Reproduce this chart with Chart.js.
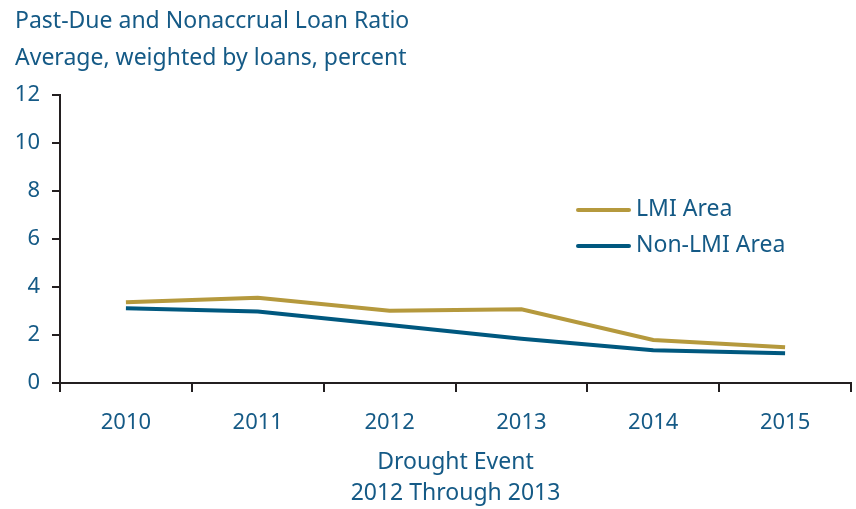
<!DOCTYPE html>
<html>
<head>
<meta charset="utf-8">
<script src="https://cdn.jsdelivr.net/npm/chart.js@4/dist/chart.umd.min.js"></script>
<style>
html,body{margin:0;padding:0;background:#fff;}
#wrap{width:856px;height:509px;position:relative;}
</style>
</head>
<body>
<div id="wrap"><canvas id="c" width="856" height="509"></canvas></div>
<script>
const categories = ['2010', '2011', '2012', '2013', '2014', '2015'];
const lmiArea = [3.36, 3.55, 3.01, 3.07, 1.79, 1.49];
const nonLmiArea = [3.11, 2.98, 2.42, 1.84, 1.36, 1.24];
const yTicks = [0, 2, 4, 6, 8, 10, 12];
const titleLines = ['Past-Due and Nonaccrual Loan Ratio', 'Average, weighted by loans, percent'];
const xTitleLines = ['Drought Event', '2012 Through 2013'];
const seriesNames = ['LMI Area', 'Non-LMI Area'];

const TEXT = '#155a86';
const GOLD = '#b5993d';
const BLUE = '#00587f';
const AXIS = '#231f20';
const FONT = "'Noto Sans', sans-serif";

const overlay = {
  id: 'overlay',
  afterDraw(chart) {
    const ctx = chart.ctx;
    ctx.save();
    ctx.fillStyle = TEXT;
    ctx.font = '23px ' + FONT;
    ctx.textAlign = 'left';
    ctx.textBaseline = 'alphabetic';
    ctx.fillText(titleLines[0], 15, 28);
    ctx.fillText(titleLines[1], 15, 65);
    // legend
    const items = [[seriesNames[0], GOLD, 210], [seriesNames[1], BLUE, 246]];
    items.forEach(([t, c, y]) => {
      ctx.strokeStyle = c;
      ctx.lineWidth = 4;
      ctx.lineCap = 'round';
      ctx.beginPath();
      ctx.moveTo(578, y);
      ctx.lineTo(629, y);
      ctx.stroke();
      ctx.fillStyle = TEXT;
      ctx.textBaseline = 'middle';
      ctx.fillText(t, 636, y - 1);
    });
    ctx.restore();
  }
};

new Chart(document.getElementById('c'), {
  type: 'line',
  data: {
    labels: categories,
    datasets: [
      { label: seriesNames[0], data: lmiArea, borderColor: GOLD, backgroundColor: GOLD, borderWidth: 4, pointRadius: 0, tension: 0 },
      { label: seriesNames[1], data: nonLmiArea, borderColor: BLUE, backgroundColor: BLUE, borderWidth: 4, pointRadius: 0, tension: 0 }
    ]
  },
  options: {
    responsive: false,
    animation: false,
    devicePixelRatio: 1,
    layout: { padding: { top: 95, left: 0, right: 5, bottom: 0 } },
    plugins: { legend: { display: false }, title: { display: false }, tooltip: { enabled: false } },
    scales: {
      x: {
        offset: true,
        afterFit(s) { s.height = 126; },
        grid: { offset: true, drawOnChartArea: false, drawTicks: true, tickLength: 9, color: AXIS, lineWidth: 2 },
        border: { display: true, color: AXIS, width: 2 },
        ticks: { color: TEXT, font: { family: FONT, size: 22 }, padding: 18, maxRotation: 0 },
        title: { display: true, text: xTitleLines, color: TEXT, font: { family: FONT, size: 23, lineHeight: 1.35 }, padding: { top: 0, bottom: 0 } }
      },
      y: {
        min: 0, max: 12,
        afterFit(s) { s.width = 60; },
        afterBuildTicks(s) { s.ticks = yTicks.map(v => ({ value: v })); },
        grid: { drawOnChartArea: false, drawTicks: true, tickLength: 8, color: AXIS, lineWidth: 2 },
        border: { display: true, color: AXIS, width: 2 },
        ticks: { color: TEXT, font: { family: FONT, size: 22 }, padding: 12 }
      }
    }
  },
  plugins: [overlay]
});
</script>
</body>
</html>
